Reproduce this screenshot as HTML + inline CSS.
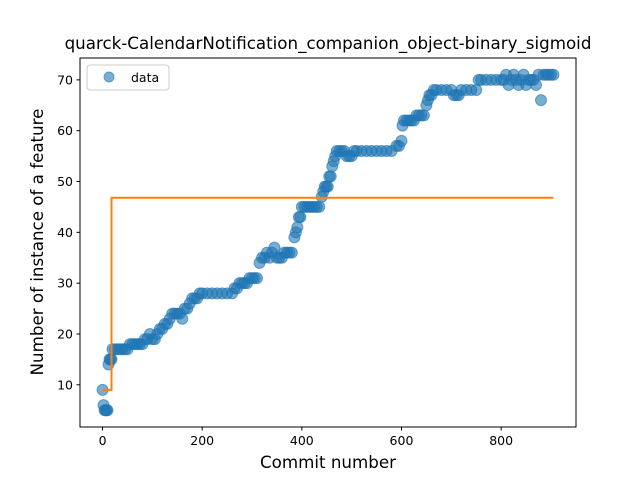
<!DOCTYPE html>
<html><head><meta charset="utf-8"><style>
body{margin:0;background:#fff}
svg{font-family:"DejaVu Sans","Liberation Sans",sans-serif}
</style></head><body>
<svg id="chart" width="640" height="480" xmlns="http://www.w3.org/2000/svg">
<rect width="640" height="480" fill="#fff"/>
<text x="328" y="49" text-anchor="middle" font-size="16.7">quarck-CalendarNotification_companion_object-binary_sigmoid</text>
<g id="plot"></g>
<rect x="80" y="58" width="496" height="369" fill="none" stroke="#000" stroke-width="1"/>
<g id="axes"></g>
<text x="328" y="468" text-anchor="middle" font-size="16.7">Commit number</text>
<text transform="translate(43,242) rotate(-90)" text-anchor="middle" font-size="16.7">Number of instance of a feature</text>
<g>
<rect x="87" y="65" width="82" height="25" rx="3" fill="#fff" stroke="#ccc"/>
<circle cx="109" cy="77" r="5" fill="#1f77b4" fill-opacity="0.6" stroke="#1f77b4" stroke-opacity="0.6"/>
<text x="131" y="82" font-size="12.5">data</text>
</g>
</svg>
<script>
const commits=[0,2,4,6,8,10,12,14,16,18,20,25,30,35,40,45,50,55,60,65,70,75,80,85,90,95,100,105,110,115,120,125,130,135,140,145,150,155,160,165,170,175,180,185,190,195,200,210,220,230,240,250,260,265,270,275,280,285,290,295,300,305,310,315,320,325,330,335,340,345,350,355,360,365,370,375,380,385,388,391,394,397,400,405,410,415,420,425,430,435,440,443,446,449,452,455,458,461,464,467,470,475,480,485,490,495,500,505,510,520,530,540,550,560,570,580,590,595,600,602,605,610,615,620,625,630,635,640,645,650,653,656,660,665,670,680,690,700,705,710,715,720,730,740,750,755,760,770,780,790,800,805,810,815,820,825,830,835,840,845,850,855,860,865,870,875,880,885,890,895,900,905];
const values=[9,6,5,5,5,5,14,15,15,15,17,17,17,17,17,17,17,18,18,18,18,18,18,19,19,20,19,19,20,21,21,22,22,23,24,24,24,24,23,25,25,26,27,27,27,28,28,28,28,28,28,28,28,29,29,30,30,30,30,31,31,31,31,34,35,35,36,35,36,37,35,35,35,36,36,36,36,39,40,41,43,43,45,45,45,45,45,45,45,45,47,48,49,49,49,51,51,53,54,55,56,56,56,56,55,55,55,56,56,56,56,56,56,56,56,56,57,57,58,61,62,62,62,62,62,63,63,63,63,65,66,67,67,68,68,68,68,68,67,67,67,68,68,68,68,70,70,70,70,70,70,70,71,69,70,71,70,69,70,71,69,70,70,70,69,71,66,71,71,71,71,71];
const stepX=[0,18,18,905];
const stepY=[9,9,46.8,46.8];
const xTicks=[0,200,400,600,800];
const yTicks=[10,20,30,40,50,60,70];
const X0=80,X1=576,Y0=427,Y1=58;
const xmin=-45.25,xmax=950.25,ymin=1.7,ymax=74.3;
const sx=v=>X0+(v-xmin)/(xmax-xmin)*(X1-X0);
const sy=v=>Y0-(v-ymin)/(ymax-ymin)*(Y0-Y1);
const NS="http://www.w3.org/2000/svg";
const plot=document.getElementById('plot'),axes=document.getElementById('axes');
function mk(t,a,p){const e=document.createElementNS(NS,t);for(const k in a)e.setAttribute(k,a[k]);p.appendChild(e);return e;}
for(let i=0;i<commits.length;i++){
 const c=mk('circle',{cx:sx(commits[i]),cy:sy(values[i]),r:5.5,fill:'#1f77b4','fill-opacity':0.6,stroke:'#1f77b4','stroke-opacity':0.6},plot);
 
 
}
const pl=mk('polyline',{points:stepX.map((x,i)=>sx(x)+','+sy(stepY[i])).join(' '),fill:'none',stroke:'#ff7f0e','stroke-width':2},plot);


xTicks.forEach(t=>{const x=sx(t);
 mk('line',{x1:x,x2:x,y1:427,y2:430.5,stroke:'#000'},axes);
 const tx=mk('text',{x:x,y:445,'text-anchor':'middle','font-size':12.5},axes);tx.textContent=t;
 
 
});
yTicks.forEach(t=>{const y=sy(t);
 mk('line',{x1:76.5,x2:80,y1:y,y2:y,stroke:'#000'},axes);
 const tx=mk('text',{x:73,y:y+4.5,'text-anchor':'end','font-size':12.5},axes);tx.textContent=t;
 
 
});
</script>
</body></html>
